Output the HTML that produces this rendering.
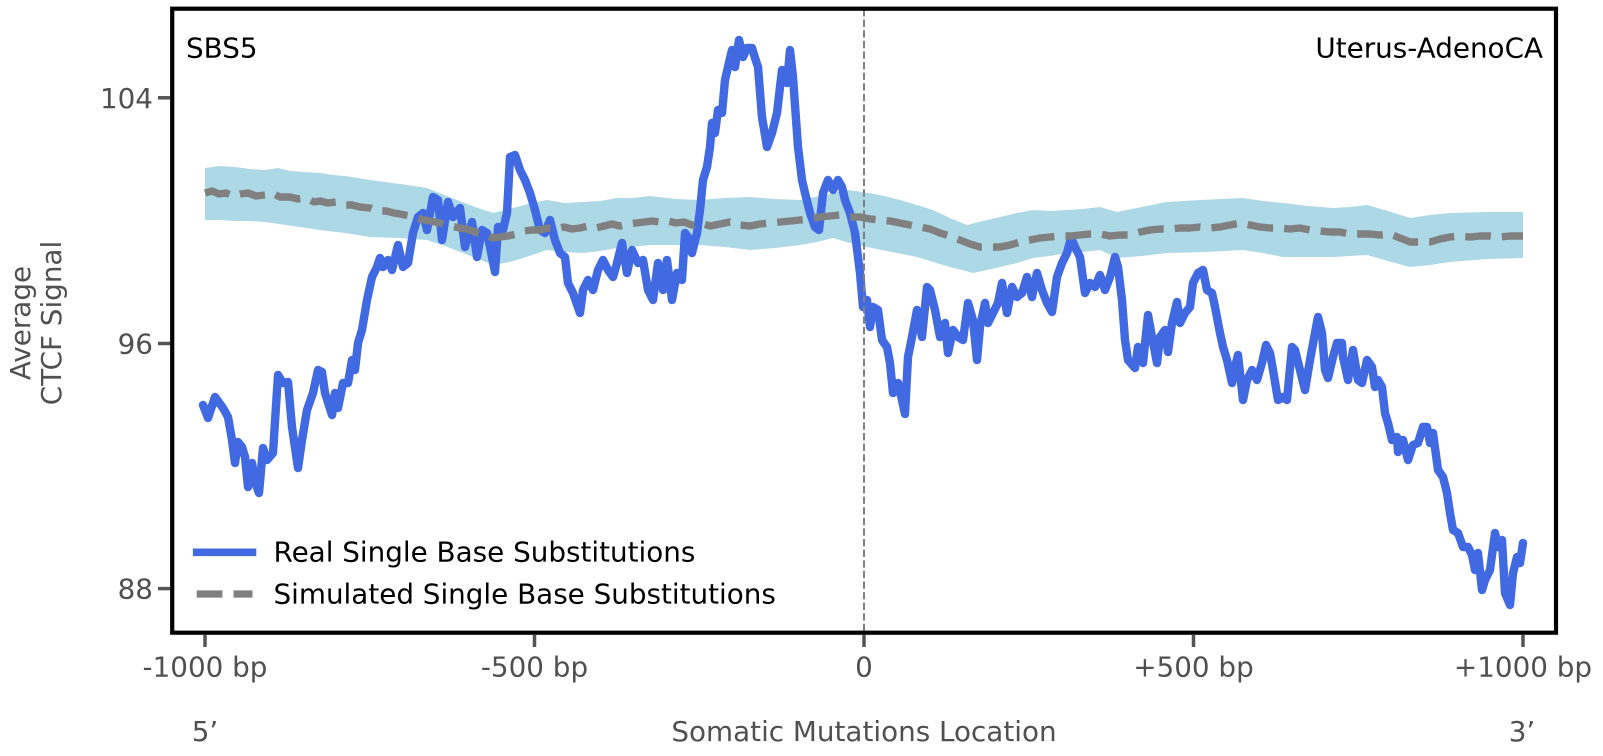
<!DOCTYPE html>
<html>
<head>
<meta charset="utf-8">
<style>
  html, body { margin: 0; padding: 0; background: #ffffff; }
  svg { display: block; }
  text { font-family: "DejaVu Sans", "Liberation Sans", sans-serif; }
</style>
</head>
<body>
<svg width="1603" height="756" viewBox="0 0 1603 756" xmlns="http://www.w3.org/2000/svg">
  <rect x="0" y="0" width="1603" height="756" fill="#ffffff"/>

  <!-- simulated confidence band -->
  <polygon fill="#ADD8E6" points="
    205,168 220,166 235,167 250,169 265,170 278,168 290,171 305,172 320,173 333,175 345,176 358,178 370,180 385,182 400,184 414,186 427,188 442,194 457,200 475,207 493,213 505,210 517,207 532,203 547,200 565,203 583,202 600,201 617,198 633,198 650,196 675,199 700,200 725,198 750,197 775,199 800,200 825,195 848,190 862,192 875,194 888,197 900,200 917,205 933,210 950,218 967,225 983,221 1000,217 1017,213 1033,210 1050,211 1067,210 1083,209 1100,207 1117,212 1142,207 1167,202 1183,201 1200,200 1222,199 1243,198 1263,201 1283,203 1308,206 1333,208 1350,207 1367,205 1388,211 1410,218 1430,215 1450,213 1487,212 1523,212
    1523,258 1487,259 1450,262 1430,265 1410,267 1388,261 1367,255 1350,256 1333,257 1308,257 1283,257 1263,253 1243,250 1205,252 1167,253 1142,256 1117,258 1100,250 1083,252 1067,253 1050,256 1033,258 1017,263 1000,267 987,270 973,273 962,270 950,267 933,262 917,257 892,252 867,247 850,243 833,238 817,242 800,245 775,248 750,250 725,247 700,245 675,245 650,245 633,247 617,248 600,251 583,253 565,252 547,250 532,255 517,260 505,263 493,265 478,259 463,253 445,246 427,240 398,238 370,237 345,233 320,230 293,226 265,222 250,221 235,221 220,220 205,220"/>

  <!-- real SBS line -->
  <polyline fill="none" stroke="#4169E1" stroke-width="8.4" stroke-linejoin="round" stroke-linecap="round" points="
    203,405 208,418 215,397 223,408 228,417 232,440 235,463 238,442 242,447 245,457 248,487 252,463 255,482 259,493 263,448 267,460 273,453 278,375 283,383 288,382 292,427 298,468 302,440 307,410 313,393 318,370 322,372 325,393 332,415 335,393 338,408 343,383 348,383 352,360 355,370 358,343 362,330 367,300 372,277 377,267 380,258 383,267 388,260 392,270 398,245 403,267 408,263 413,233 418,217 423,213 427,230 433,197 438,200 442,240 448,202 453,217 460,208 465,247 472,222 477,257 482,230 487,233 490,247 495,272 498,227 503,230 507,213 510,157 515,155 520,170 525,180 530,193 535,210 540,230 545,233 550,220 555,240 560,253 565,257 568,283 573,293 580,313 583,290 588,280 593,290 598,270 603,260 608,270 613,277 617,263 622,243 627,273 632,250 638,263 643,260 648,290 653,300 658,263 663,290 667,260 672,300 677,273 682,280 685,233 688,237 692,253 697,233 700,210 703,180 707,167 710,147 712,123 715,133 718,110 722,113 725,80 728,67 732,50 735,67 739,40 743,57 747,48 752,48 755,58 758,67 762,117 767,147 772,133 777,113 782,70 787,83 790,50 793,77 798,147 802,180 805,193 810,213 815,227 819,230 823,193 828,180 833,190 838,180 842,187 845,200 850,213 855,233 860,273 863,307 867,300 870,327 873,307 878,310 882,340 887,347 890,363 893,393 898,383 902,400 905,414 908,357 912,337 917,310 922,337 927,287 930,290 935,310 940,337 945,323 948,353 953,330 958,337 963,340 968,303 973,320 977,360 980,327 985,303 988,323 993,313 998,303 1002,283 1007,313 1012,287 1017,297 1022,293 1027,277 1032,297 1037,273 1042,290 1047,303 1052,312 1057,277 1062,263 1067,253 1071,238 1075,247 1080,257 1085,293 1090,283 1095,287 1100,275 1105,290 1110,277 1115,257 1118,267 1122,300 1125,340 1128,360 1135,368 1138,347 1143,363 1148,315 1152,337 1157,363 1160,337 1165,330 1168,352 1172,323 1177,302 1180,323 1185,313 1190,307 1193,283 1198,273 1203,270 1207,290 1212,293 1215,307 1220,333 1223,347 1227,360 1232,383 1235,367 1238,355 1243,400 1247,380 1252,370 1257,380 1262,363 1266,345 1270,353 1273,370 1278,400 1283,397 1287,400 1292,347 1295,350 1300,370 1305,390 1310,360 1315,333 1318,317 1322,333 1325,370 1328,378 1333,357 1337,343 1342,343 1343,357 1348,380 1353,350 1358,380 1362,383 1367,360 1372,367 1375,387 1378,380 1382,387 1385,413 1388,423 1392,440 1397,437 1398,452 1403,440 1408,460 1413,445 1418,443 1423,427 1427,427 1430,443 1433,433 1438,470 1443,477 1447,493 1450,513 1453,530 1458,533 1463,547 1468,547 1472,555 1475,570 1478,553 1482,590 1485,580 1490,570 1495,533 1498,547 1502,540 1505,593 1510,605 1513,573 1517,557 1520,563 1523,543"/>

  <!-- simulated mean dashed line -->
  <polyline fill="none" stroke="#808080" stroke-width="7.4" stroke-dasharray="25.7 11.1" stroke-linejoin="round" points="
    205,193 212,191 219,194 226,193 233,196 240,194 248,193 256,196 265,195 272,193 280,197 290,197 298,199 306,198 314,202 320,201 328,203 336,202 345,205 352,205 360,207 370,208 378,211 386,211 394,213 400,214 410,216 420,219 430,221 440,223 450,226 460,228 470,230 478,233 486,235 493,238 500,237 508,236 516,234 524,231 532,230 540,230 548,228 556,229 564,227 572,229 580,228 588,226 596,228 604,226 612,224 620,226 628,224 636,223 644,222 652,221 660,222 668,221 676,223 684,222 692,225 700,223 710,226 720,224 730,222 740,225 750,226 760,224 770,223 780,222 790,221 800,220 810,219 820,217 830,216 840,215 850,217 860,217 870,219 880,220 890,221 900,223 910,225 920,227 930,229 940,233 950,236 960,240 970,244 980,247 990,247 1000,247 1010,245 1020,242 1030,240 1040,238 1050,237 1060,236 1070,236 1080,235 1090,234 1100,234 1110,236 1120,235 1130,235 1140,232 1150,230 1160,229 1170,229 1180,228 1190,228 1200,227 1210,228 1220,227 1230,225 1240,223 1250,225 1260,227 1270,228 1280,228 1290,229 1300,228 1310,230 1320,231 1330,232 1340,232 1350,234 1360,234 1370,234 1380,235 1390,234 1400,238 1410,242 1420,242 1430,242 1440,239 1450,237 1460,236 1470,237 1480,236 1490,236 1500,237 1510,236 1523,236"/>

  <!-- vertical dashed line at 0 -->
  <line x1="864" y1="9" x2="864" y2="632" stroke="#808080" stroke-width="2" stroke-dasharray="7.4 3.2"/>

  <!-- frame -->
  <rect x="172.2" y="8.7" width="1383.8" height="624" fill="none" stroke="#000000" stroke-width="4.2"/>

  <!-- y ticks -->
  <g stroke="#555555" stroke-width="3.5">
    <line x1="158" y1="97.8" x2="170" y2="97.8"/>
    <line x1="158" y1="343.5" x2="170" y2="343.5"/>
    <line x1="158" y1="588.6" x2="170" y2="588.6"/>
  </g>
  <g fill="#505050" font-size="27.8" text-anchor="end">
    <text x="153" y="107.9">104</text>
    <text x="153" y="353.6">96</text>
    <text x="153" y="598.7">88</text>
  </g>

  <!-- x ticks -->
  <g stroke="#555555" stroke-width="3.5">
    <line x1="205" y1="635" x2="205" y2="647"/>
    <line x1="534.5" y1="635" x2="534.5" y2="647"/>
    <line x1="864" y1="635" x2="864" y2="647"/>
    <line x1="1193.5" y1="635" x2="1193.5" y2="647"/>
    <line x1="1523" y1="635" x2="1523" y2="647"/>
  </g>
  <g fill="#505050" font-size="27.8" text-anchor="middle">
    <text x="205" y="676.5">-1000 bp</text>
    <text x="534.5" y="676.5">-500 bp</text>
    <text x="864" y="676.5">0</text>
    <text x="1193.5" y="676.5">+500 bp</text>
    <text x="1523" y="676.5">+1000 bp</text>
    <text x="205" y="741">5’</text>
    <text x="864" y="741">Somatic Mutations Location</text>
    <text x="1522" y="741">3’</text>
  </g>

  <!-- y axis label -->
  <g fill="#505050" font-size="27.8" text-anchor="middle">
    <text transform="translate(30,323) rotate(-90)">Average</text>
    <text transform="translate(61,323) rotate(-90)">CTCF Signal</text>
  </g>

  <!-- in-plot titles -->
  <text x="186" y="57.3" font-size="27.8" fill="#000000">SBS5</text>
  <text x="1543" y="57.3" font-size="27.8" fill="#000000" text-anchor="end">Uterus-AdenoCA</text>

  <!-- legend -->
  <line x1="196.7" y1="552.3" x2="252.5" y2="552.3" stroke="#4169E1" stroke-width="7.6" stroke-linecap="square"/>
  <line x1="196.7" y1="594" x2="252.5" y2="594" stroke="#808080" stroke-width="7.2" stroke-dasharray="25.7 11.1"/>
  <text x="273.5" y="561.7" font-size="27.8" fill="#000000">Real Single Base Substitutions</text>
  <text x="273.5" y="603.3" font-size="27.8" fill="#000000">Simulated Single Base Substitutions</text>
</svg>
</body>
</html>
